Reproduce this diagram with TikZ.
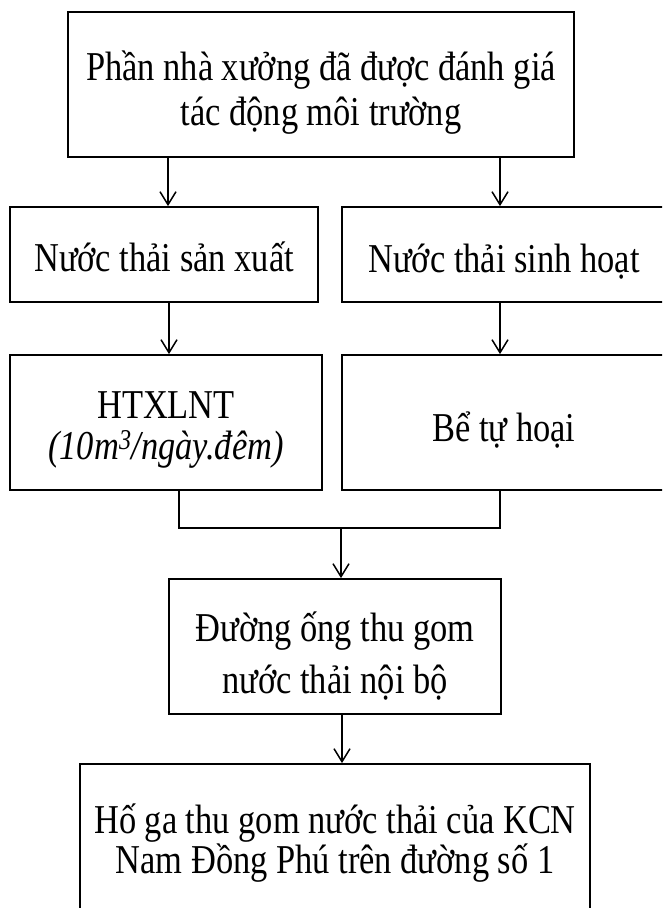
\documentclass[tikz,border=0pt]{standalone}
\usepackage{fontspec}
\setmainfont{Liberation Serif}[FakeStretch=0.84]
\usetikzlibrary{arrows.meta}
\begin{document}
\begin{tikzpicture}[x=1pt,y=-1pt,
  box/.style={draw, line width=1.8pt, inner sep=0pt},
  txt/.style={font=\fontsize{41}{#1}\selectfont, align=center, inner sep=0pt},
  arr/.style={line width=1.5pt, -{Straight Barb[length=13pt,width=16pt,line width=1.5pt]}},
  link/.style={line width=1.5pt}]
\useasboundingbox (0,0) rectangle (662,908);
\clip (0,0) rectangle (662,908);

% boxes, each with its text set as a centred label
\node[box, minimum width=506pt, minimum height=145pt,
  label={[txt=45, yshift=-8pt]center:{Phần nhà xưởng đã được đánh giá\\tác động môi trường}}]
  (src) at (321,84.5) {};
\node[box, minimum width=308pt, minimum height=95pt,
  label={[txt=42, yshift=-2pt]center:{Nước thải sản xuất}}]
  (prod) at (164,254.5) {};
\node[box, minimum width=324pt, minimum height=95pt,
  label={[txt=42, yshift=-7pt]center:{Nước thải sinh hoạt}}]
  (dom) at (504,254.5) {};
\node[box, minimum width=312pt, minimum height=135pt,
  label={[txt=41, yshift=-7pt]center:{HTXLNT\\\textit{(10m\textsuperscript{3}/ngày.đêm)}}}]
  (plant) at (166,422.5) {};
\node[box, minimum width=324pt, minimum height=135pt,
  label={[txt=42, yshift=-8pt]center:{Bể tự hoại}}]
  (tank) at (504,422.5) {};
\node[box, minimum width=332pt, minimum height=135pt,
  label={[txt=52, yshift=-10pt]center:{Đường ống thu gom\\nước thải nội bộ}}]
  (pipe) at (335,646.5) {};
\node[box, minimum width=510pt, minimum height=154pt,
  label={[txt=38, yshift=-2pt]center:{Hố ga thu gom nước thải của KCN\\Nam Đồng Phú trên đường số 1}}]
  (pit) at (335,841) {};

% connector columns
\coordinate (cl1) at (168,0);
\coordinate (cl2) at (169,0);
\coordinate (cl3) at (179,0);
\coordinate (cr) at (500,0);
\coordinate (join) at (341,528);
\coordinate (cm) at (342,0);

% connectors
\draw[arr] (src.south -| cl1) -- (prod.north -| cl1);
\draw[arr] (src.south -| cr) -- (dom.north -| cr);
\draw[arr] (prod.south -| cl2) -- (plant.north -| cl2);
\draw[arr] (dom.south -| cr) -- (tank.north -| cr);
\draw[link] (plant.south -| cl3) -- (join -| cl3) -- (join -| cr) -- (tank.south -| cr);
\draw[arr] (join) -- (pipe.north -| join);
\draw[arr] (pipe.south -| cm) -- (pit.north -| cm);
\end{tikzpicture}
\end{document}
